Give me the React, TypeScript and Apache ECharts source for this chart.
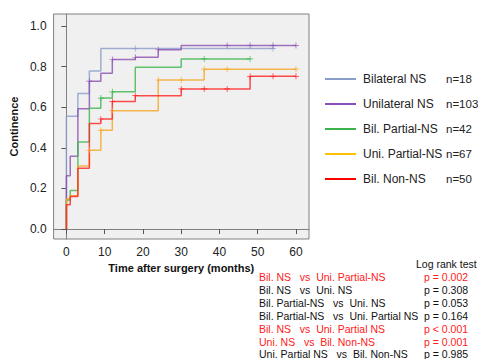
import React, { useEffect, useRef } from "react";
import * as echarts from "echarts";

// ---- data ----
const groupNames = ["Bilateral NS", "Unilateral NS", "Bil. Partial-NS", "Uni. Partial-NS", "Bil. Non-NS"];
const groupN = ["n=18", "n=103", "n=42", "n=67", "n=50"];
const lineColors = ["#8a9cc8", "#8b4fb0", "#3cb44b", "#f5a623", "#ff2020"];
const legendColors = ["#8a9cc8", "#8a4fb8", "#3cb44b", "#ffc000", "#ff0000"];

const bilateralNS: [number, number][] = [[0, 0], [0, 0.556], [3, 0.667], [6, 0.778], [9, 0.889], [54, 0.889]];
const unilateralNS: [number, number][] = [[0, 0], [0, 0.262], [1, 0.359], [3, 0.592], [6, 0.728], [9, 0.767], [12, 0.835], [18, 0.846], [24, 0.883], [30, 0.904], [60, 0.904]];
const bilPartialNS: [number, number][] = [[0, 0], [0, 0.143], [1, 0.19], [3, 0.429], [6, 0.595], [9, 0.645], [12, 0.676], [18, 0.797], [30, 0.838], [48, 0.838]];
const uniPartialNS: [number, number][] = [[0, 0], [0, 0.149], [1, 0.164], [3, 0.31], [6, 0.388], [9, 0.487], [12, 0.583], [24, 0.734], [36, 0.787], [60, 0.787]];
const bilNonNS: [number, number][] = [[0, 0], [0, 0.12], [1, 0.16], [3, 0.30], [6, 0.52], [9, 0.542], [12, 0.628], [18, 0.657], [30, 0.69], [48, 0.752], [60, 0.752]];

const censorTimes: number[][] = [
  [18, 54],
  [6, 12, 18, 24, 42, 48, 54, 60],
  [9, 12, 36, 48],
  [6, 9, 12, 24, 30, 36, 42, 60],
  [9, 12, 18, 30, 36, 42, 48, 54, 60],
];

const xTicks = [0, 10, 20, 30, 40, 50, 60];
const yTicks = [0, 0.2, 0.4, 0.6, 0.8, 1.0];

const comparisons = [
  "Bil. NS   vs  Uni. Partial-NS",
  "Bil. NS   vs  Uni. NS",
  "Bil. Partial-NS   vs  Uni. NS",
  "Bil. Partial-NS   vs  Uni. Partial NS",
  "Bil. NS   vs  Uni. Partial NS",
  "Uni. NS   vs  Bil. Non-NS",
  "Uni. Partial NS   vs  Bil. Non-NS",
];
const pValues = ["p = 0.002", "p = 0.308", "p = 0.053", "p = 0.164", "p < 0.001", "p = 0.001", "p = 0.985"];
const significant = [true, false, false, false, true, true, false];

const curves = [bilateralNS, unilateralNS, bilPartialNS, uniPartialNS, bilNonNS];

function valueAt(curve: [number, number][], t: number): number {
  let v = 0;
  for (const [x, y] of curve) if (x <= t) v = y;
  return v;
}

const FONT = "'Liberation Sans', Arial, sans-serif";
const plusPath =
  "path://M-0.12,-1 L0.12,-1 L0.12,1 L-0.12,1 Z M-1,-0.12 L1,-0.12 L1,0.12 L-1,0.12 Z";

export default function App() {
  const ref = useRef<HTMLDivElement>(null);
  useEffect(() => {
    if (!ref.current) return;
    const chart = echarts.init(ref.current, null, { renderer: "svg" });
    const series: any[] = [];
    curves.forEach((c, i) => {
      series.push({
        name: groupNames[i],
        type: "line",
        step: "end",
        data: c,
        showSymbol: false,
        lineStyle: { color: lineColors[i], width: 1.5, opacity: 0.8 },
        itemStyle: { color: legendColors[i] },
        z: 2 + i,
      });
    });
    curves.forEach((c, i) => {
      series.push({
        name: groupNames[i] + " censored",
        type: "scatter",
        data: censorTimes[i].map((t) => [t, valueAt(c, t)]),
        symbol: plusPath,
        symbolSize: 6,
        itemStyle: { color: lineColors[i], opacity: 0.9 },
        z: 10,
      });
    });
    const tableX0 = 259;
    const tableX1 = 424;
    const rowY0 = 277;
    const rowH = 12.9;
    const TF = `10.5px ${FONT}`;
    const graphic: any[] = [
      {
        type: "text",
        x: 416,
        y: 264,
        style: { text: "Log rank test", font: TF, fill: "#111", verticalAlign: "middle" },
      },
    ];
    comparisons.forEach((c, i) => {
      const col = significant[i] ? "#ff2020" : "#111";
      graphic.push({
        type: "text",
        x: tableX0,
        y: rowY0 + i * rowH,
        style: { text: c, font: TF, fill: col, verticalAlign: "middle" },
      });
      graphic.push({
        type: "text",
        x: tableX1,
        y: rowY0 + i * rowH,
        style: { text: pValues[i], font: TF, fill: col, verticalAlign: "middle" },
      });
    });
    chart.setOption({
      animation: false,
      textStyle: { fontFamily: FONT },
      grid: {
        left: 51,
        top: 14,
        width: 258,
        height: 225,
        show: true,
        backgroundColor: "#f0f0f0",
        borderColor: "#808080",
        borderWidth: 1,
      },
      legend: {
        data: groupNames,
        orient: "vertical",
        left: 320,
        top: 67,
        itemWidth: 31,
        itemHeight: 2,
        itemGap: 11,
        icon: "rect",
        formatter: (name: string) => {
          const i = groupNames.indexOf(name);
          return `{a|${name}}{b|${groupN[i]}}`;
        },
        textStyle: {
          fontFamily: FONT,
          fontSize: 12,
          color: "#222",
          lineHeight: 14,
          rich: {
            a: { width: 83, padding: [0, 0, 0, 2], fontSize: 12, fontFamily: FONT, color: "#222" },
            b: { fontSize: 11.5, fontFamily: FONT, color: "#222" },
          },
        },
      },
      xAxis: {
        type: "value",
        min: -3.35,
        max: 63.4,
        name: "Time after surgery (months)",
        nameLocation: "middle",
        nameGap: 22,
        nameTextStyle: { fontWeight: "bold", fontSize: 11, color: "#111", fontFamily: FONT },
        axisLine: { show: true, lineStyle: { color: "#808080" } },
        axisTick: { show: true, length: 5, customValues: xTicks, lineStyle: { color: "#555" } },
        axisLabel: { customValues: xTicks, margin: 7, fontSize: 12, color: "#222", fontFamily: FONT },
        splitLine: { show: false },
      },
      yAxis: {
        type: "value",
        min: -0.049,
        max: 1.059,
        name: "Continence",
        nameLocation: "middle",
        nameRotate: 90,
        nameGap: 27,
        nameTextStyle: { fontWeight: "bold", fontSize: 11, color: "#111", fontFamily: FONT },
        axisLine: { show: true, lineStyle: { color: "#808080" } },
        axisTick: { show: true, length: 5, customValues: yTicks, lineStyle: { color: "#555" } },
        axisLabel: {
          customValues: yTicks,
          margin: 7,
          fontSize: 12,
          color: "#222",
          fontFamily: FONT,
          formatter: (v: number) => v.toFixed(1),
        },
        splitLine: { show: false },
      },
      series,
      graphic,
    });
    return () => chart.dispose();
  }, []);
  return (
    <div
      ref={ref}
      style={{ position: "fixed", left: 0, top: 0, width: 478, height: 359, background: "#fff" }}
    />
  );
}
